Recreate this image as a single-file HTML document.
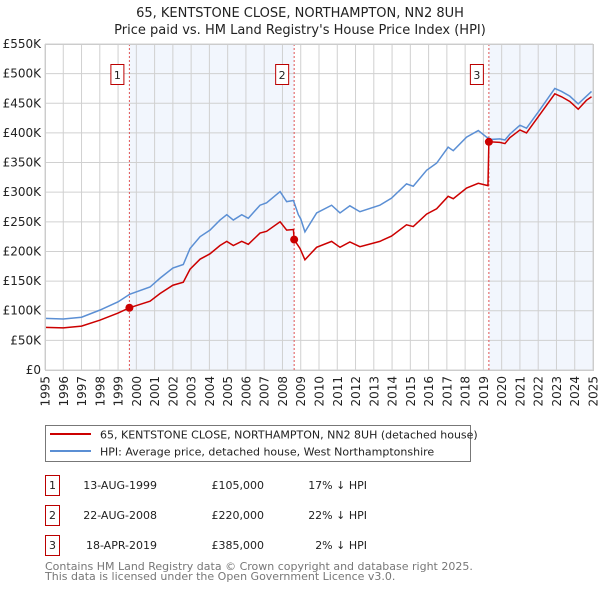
<!DOCTYPE html>
<html><head><meta charset="utf-8"><style>
body{margin:0;background:#fff;font-family:"DejaVu Sans","Liberation Sans",sans-serif;}
svg text{font-family:"DejaVu Sans","Liberation Sans",sans-serif;}
</style></head><body>
<svg id="chart" width="600" height="590" viewBox="0 0 600 590" xmlns="http://www.w3.org/2000/svg">
<text x="300" y="17" text-anchor="middle" font-size="13" fill="#222">65, KENTSTONE CLOSE, NORTHAMPTON, NN2 8UH</text>
<text x="300" y="34" text-anchor="middle" font-size="13" fill="#222">Price paid vs. HM Land Registry's House Price Index (HPI)</text>
<g id="plot"></g>
<g>
<rect x="45.5" y="425.5" width="425" height="36" fill="#fff" stroke="#777"/>
<line x1="50" y1="434" x2="91" y2="434" stroke="#cc0000" stroke-width="2"/>
<text x="100" y="438.5" font-size="11" fill="#222">65, KENTSTONE CLOSE, NORTHAMPTON, NN2 8UH (detached house)</text>
<line x1="50" y1="451" x2="91" y2="451" stroke="#5b8fd4" stroke-width="2"/>
<text x="100" y="455.5" font-size="11" fill="#222">HPI: Average price, detached house, West Northamptonshire</text>
</g>
<g font-size="11" fill="#222">
<rect x="45.5" y="475.5" width="14" height="20" fill="#fff" stroke="#b00"/>
<text x="52.5" y="489" text-anchor="middle">1</text>
<text x="157" y="489" text-anchor="end">13-AUG-1999</text>
<text x="264" y="489" text-anchor="end">£105,000</text>
<text x="367" y="489" text-anchor="end">17% ↓ HPI</text>
<rect x="45.5" y="505.5" width="14" height="20" fill="#fff" stroke="#b00"/>
<text x="52.5" y="519" text-anchor="middle">2</text>
<text x="157" y="519" text-anchor="end">22-AUG-2008</text>
<text x="264" y="519" text-anchor="end">£220,000</text>
<text x="367" y="519" text-anchor="end">22% ↓ HPI</text>
<rect x="45.5" y="535.5" width="14" height="20" fill="#fff" stroke="#b00"/>
<text x="52.5" y="549" text-anchor="middle">3</text>
<text x="157" y="549" text-anchor="end">18-APR-2019</text>
<text x="264" y="549" text-anchor="end">£385,000</text>
<text x="367" y="549" text-anchor="end">2% ↓ HPI</text>
</g>
<text x="45" y="570" font-size="11" fill="#777">Contains HM Land Registry data © Crown copyright and database right 2025.</text>
<text x="45" y="580" font-size="11" fill="#777">This data is licensed under the Open Government Licence v3.0.</text>
</svg>
<script>
const yTicks = [0,50,100,150,200,250,300,350,400,450,500,550];
const yTickLabels = ["£0","£50K","£100K","£150K","£200K","£250K","£300K","£350K","£400K","£450K","£500K","£550K"];
const xYears = [1995,1996,1997,1998,1999,2000,2001,2002,2003,2004,2005,2006,2007,2008,2009,2010,2011,2012,2013,2014,2015,2016,2017,2018,2019,2020,2021,2022,2023,2024,2025];
const hpiYears = [1995.0,1996.0,1997.0,1998.0,1999.0,1999.65,2000.75,2001.3,2002.0,2002.57,2002.94,2003.49,2004.03,2004.58,2004.95,2005.31,2005.77,2006.13,2006.77,2007.13,2007.87,2008.23,2008.6,2008.87,2009.0,2009.23,2009.87,2010.69,2011.15,2011.69,2012.24,2013.33,2013.97,2014.79,2015.16,2015.89,2016.44,2017.07,2017.35,2018.08,2018.72,2019.17,2019.45,2019.9,2020.18,2020.45,2021.0,2021.36,2022.09,2022.91,2023.28,2023.73,2024.19,2024.64,2024.92];
const hpiValues = [87,86,89,101,115,128,140,155,172,178,205,225,236,253,262,253,262,256,278,282,301,284,286,262,255,233,265,278,265,277,267,278,290,314,310,337,349,376,370,393,404,393,389,390,388,398,413,408,439,475,470,462,449,462,470];
const priceYears = [1995.0,1996.0,1997.0,1998.0,1999.0,1999.62,2000.75,2001.3,2002.0,2002.57,2002.94,2003.49,2004.03,2004.58,2004.95,2005.31,2005.77,2006.13,2006.77,2007.13,2007.87,2008.23,2008.6,2008.64,2008.96,2009.23,2009.87,2010.69,2011.15,2011.69,2012.24,2013.33,2013.97,2014.79,2015.16,2015.89,2016.44,2017.07,2017.35,2018.08,2018.72,2019.25,2019.3,2019.9,2020.18,2020.45,2021.0,2021.36,2022.09,2022.91,2023.28,2023.73,2024.19,2024.64,2024.92];
const priceValues = [72,71,74,84,96,105,116,129,143,148,170,187,196,210,217,210,217,212,231,234,250,236,237,220,205,186,207,217,207,216,208,217,226,245,242,263,272,293,289,307,315,311,385,384,382,392,405,400,431,466,461,453,440,455,461];
const saleYears = [1999.62,2008.64,2019.3];
const salePrices = [105,220,385];
const saleLabels = ["1","2","3"];

const X0=45,X1=593,Y0=370,Y1=44;
const x = y => X0 + (y-1995)/(2025-1995)*(X1-X0);
const yv = v => Y0 - v/550*(Y0-Y1);
const NS="http://www.w3.org/2000/svg";
const plot=document.getElementById('plot');
function mk(tag,attrs,parent){const e=document.createElementNS(NS,tag);for(const k in attrs)e.setAttribute(k,attrs[k]);(parent||plot).appendChild(e);return e;}

const sh1=mk('rect',{x:x(saleYears[0]),y:Y1,width:x(saleYears[1])-x(saleYears[0]),height:Y0-Y1,fill:'#f2f6fd'});


const sh2=mk('rect',{x:x(saleYears[2]),y:Y1,width:X1-x(saleYears[2]),height:Y0-Y1,fill:'#f2f6fd'});



xYears.forEach(yr=>{
  const l=mk('line',{x1:x(yr),x2:x(yr),y1:Y1,y2:Y0,stroke:'#d0d0d0','stroke-width':1});
  
  
  const tx=x(yr)+4.5, ty=Y0+6;
  const t=mk('text',{x:tx,y:ty,'text-anchor':'end','font-size':12,fill:'#222',transform:'rotate(-90 '+tx+' '+ty+')'});
  t.textContent=yr;
  
  
});
yTicks.forEach((v,i)=>{
  const l=mk('line',{x1:X0,x2:X1,y1:yv(v),y2:yv(v),stroke:'#d0d0d0','stroke-width':1});
  
  
  const t=mk('text',{x:X0-4,y:yv(v)+4,'text-anchor':'end','font-size':12,fill:'#222'});
  t.textContent=yTickLabels[i];
  
  
});

saleYears.forEach((yr,i)=>{
  const l=mk('line',{x1:x(yr),x2:x(yr),y1:Y1,y2:Y0,stroke:'#e05555','stroke-width':1,'stroke-dasharray':'2,2'});
  
  
  const b=mk('rect',{x:x(yr)-18.5,y:64.5,width:13,height:20,fill:'#fff',stroke:'#b00'});
  
  
  const t=mk('text',{x:x(yr)-12,y:79,'text-anchor':'middle','font-size':11,fill:'#222'});
  t.textContent=saleLabels[i];
  
  
});

const hp=mk('polyline',{points:hpiYears.map((yr,i)=>x(yr)+','+yv(hpiValues[i])).join(' '),fill:'none',stroke:'#5b8fd4','stroke-width':1.5});


const pp=mk('polyline',{points:priceYears.map((yr,i)=>x(yr)+','+yv(priceValues[i])).join(' '),fill:'none',stroke:'#cc0000','stroke-width':1.5});


saleYears.forEach((yr,i)=>{
  const c=mk('circle',{cx:x(yr),cy:yv(salePrices[i]),r:4,fill:'#cc0000'});
  
  
});
const fr=mk('rect',{x:X0+0.5,y:Y1+0.5,width:X1-X0,height:Y0-Y1,fill:'none',stroke:'#ccc'});


</script>
</body></html>
